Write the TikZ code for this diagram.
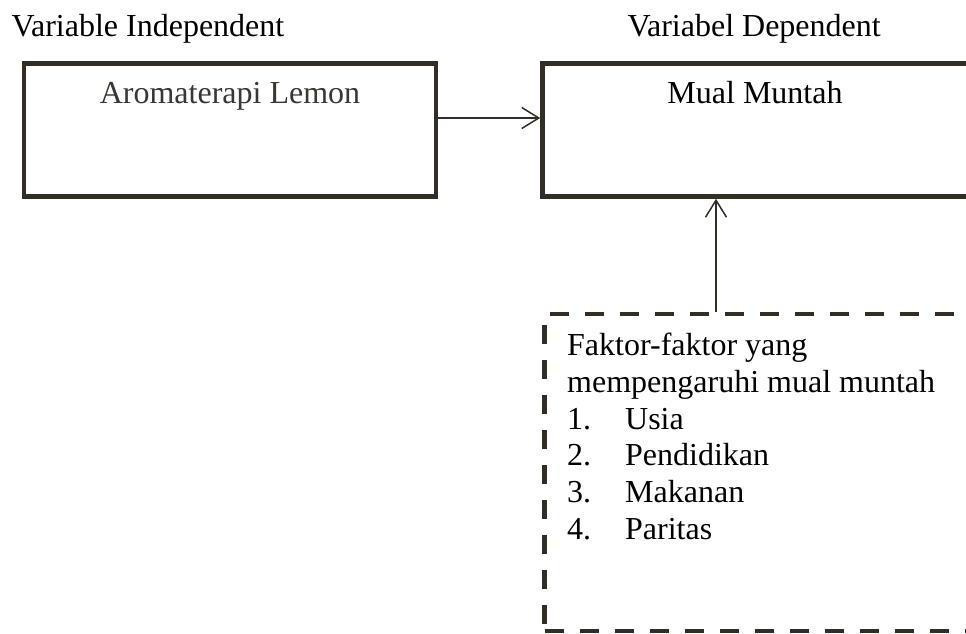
\documentclass[tikz,border=0pt]{standalone}
\usepackage{fontspec}
\setmainfont{Liberation Serif}
\usetikzlibrary{arrows.meta}
\definecolor{garis}{RGB}{50,46,38}
\definecolor{tulisan}{RGB}{58,54,48}
\begin{document}
\begin{tikzpicture}[x=1pt,y=-1pt,font=\fontsize{32}{36.7}\selectfont,
    kotak/.style={draw=garis,line width=4.6pt,inner sep=0pt},
    putus/.style={kotak,dash pattern=on 19pt off 16pt},
    panah/.style={draw=garis,line width=1.5pt,-{Straight Barb[length=17pt,width=21pt]}}]
  \useasboundingbox (0,0) rectangle (966,633);
  \clip (0,0) rectangle (966,633);
  \node[kotak,minimum width=412pt,minimum height=133pt] (lemon) at (230,130) {};
  \node[kotak,minimum width=433pt,minimum height=133pt] (mual) at (759,130) {};
  \node[putus,minimum width=431pt,minimum height=317pt] (faktor) at (760,472.5) {};
  \node[anchor=base west] (indep) at (8,36) {Variable Independent};
  \node[anchor=base west] (dep) at (624,36) {Variabel Dependent};
  \node[anchor=base,text=tulisan] (lemonteks) at (230,103) {Aromaterapi Lemon};
  \node[anchor=base] (mualteks) at (755,103) {Mual Muntah};
  \node[anchor=north west,align=left,inner sep=0pt] (faktorteks) at (567,333)
    {Faktor-faktor yang\\
     mempengaruhi mual muntah\\
     \makebox[58pt][l]{1.}Usia\\
     \makebox[58pt][l]{2.}Pendidikan\\
     \makebox[58pt][l]{3.}Makanan\\
     \makebox[58pt][l]{4.}Paritas};
  \coordinate (tengah) at (716,0);
  \draw[panah] ([yshift=12pt]lemon.east) -- ([yshift=12pt]mual.west);
  \draw[panah] (faktor.north -| tengah) -- (mual.south -| tengah);
\end{tikzpicture}
\end{document}
